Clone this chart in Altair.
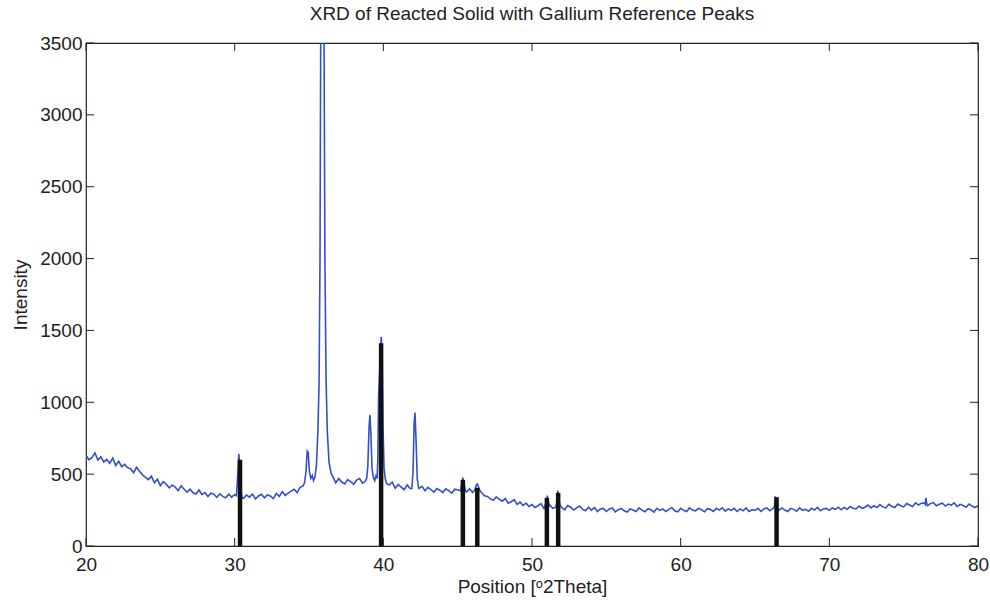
import altair as alt
import pandas as pd

# ---------------- data ----------------
base_start = 20.0
base_step = 0.2
base_int = [
    632, 600, 615, 648, 598,   # 20
    620, 585, 602, 575, 612,   # 21
    560, 590, 552, 568, 545,   # 22
    538, 510, 548, 520, 495,   # 23
    478, 462, 485, 440, 465,   # 24
    420, 448, 430, 405, 425,   # 25
    410, 385, 418, 395, 375,   # 26
    395, 370, 362, 390, 358,   # 27
    372, 345, 368, 360, 338,   # 28
    362, 345, 335, 360, 340,   # 29
    358, 350, 345, 332, 355,   # 30
    340, 362, 328, 348, 360,   # 31
    335, 355, 348, 330, 365,   # 32
    345, 378, 352, 368, 382,   # 33
    395, 372, 408, 418, 440,   # 34
    520, 470, 480, 800, 3600,  # 35
    3600, 1000, 540, 485, 440, # 36
    470, 445, 432, 462, 448,   # 37
    430, 458, 470, 438, 452,   # 38
    460, 460, 460, 480, 470,   # 39
    470, 440, 425, 445, 402,   # 40
    428, 410, 392, 425, 400,   # 41
    405, 405, 400, 415, 385,   # 42
    408, 392, 375, 400, 388,   # 43
    372, 398, 385, 368, 395,   # 44
    392, 385, 385, 375, 398,   # 45
    372, 375, 375, 372, 350,   # 46
    345, 328, 318, 342, 325,   # 47
    312, 330, 298, 308, 322,   # 48
    290, 305, 282, 298, 275,   # 49
    288, 268, 280, 295, 262,   # 50
    275, 284, 262, 270, 275,   # 51
    268, 252, 282, 270, 250,   # 52
    265, 278, 255, 245, 270,   # 53
    250, 268, 240, 258, 262,   # 54
    240, 258, 265, 238, 252,   # 55
    262, 245, 236, 258, 250,   # 56
    240, 265, 250, 238, 260,   # 57
    252, 236, 262, 248, 258,   # 58
    240, 255, 268, 245, 238,   # 59
    262, 248, 240, 265, 250,   # 60
    245, 262, 252, 238, 260,   # 61
    255, 240, 262, 250, 266,   # 62
    242, 258, 248, 262, 240,   # 63
    258, 245, 265, 240, 252,   # 64
    248, 262, 240, 258, 265,   # 65
    245, 262, 250, 248, 265,   # 66
    250, 240, 262, 255, 242,   # 67
    265, 248, 255, 242, 262,   # 68
    250, 268, 245, 258, 262,   # 69
    248, 265, 255, 270, 252,   # 70
    268, 255, 275, 262, 258,   # 71
    278, 262, 270, 285, 265,   # 72
    280, 268, 288, 272, 265,   # 73
    290, 275, 268, 292, 280,   # 74
    272, 295, 285, 275, 300,   # 75
    285, 298, 300, 280, 295,   # 76
    302, 280, 290, 298, 278,   # 77
    292, 285, 300, 275, 290,   # 78
    282, 270, 292, 278, 268,   # 79
    280,                       # 80
]

peak_pos = [
    [30.12, 30.22, 30.28, 30.34, 30.42, 30.5],
    [34.7, 34.8, 34.88, 34.95, 35.02, 35.12, 35.22, 35.3],
    [35.4, 35.5, 35.6, 35.68, 35.74, 35.79, 35.85, 35.9, 35.95, 36.01, 36.07, 36.15, 36.23, 36.35, 36.5],
    [38.88, 38.96, 39.04, 39.1, 39.16, 39.24, 39.32, 39.42, 39.5],
    [39.58, 39.63, 39.68, 39.76, 39.86, 39.92, 39.98, 40.05, 40.14, 40.25],
    [41.92, 42.0, 42.07, 42.13, 42.2, 42.28, 42.38],
    [45.18, 45.28, 45.35, 45.42, 45.52],
    [46.15, 46.25, 46.32, 46.42, 46.52],
    [50.96, 51.03, 51.1, 51.18],
    [51.66, 51.73, 51.8, 51.88],
    [66.3, 66.37, 66.44, 66.52],
    [76.45, 76.5, 76.55],
]
peak_int = [
    [350, 520, 640, 560, 380, 335],
    [440, 520, 660, 650, 520, 470, 490, 455],
    [480, 560, 800, 1150, 2000, 3600, 6500, 8000, 6500, 3600, 2000, 1150, 800, 580, 500],
    [470, 560, 830, 912, 790, 540, 480, 455, 488],
    [470, 600, 1040, 1230, 1455, 1320, 820, 540, 460, 430],
    [400, 520, 850, 928, 740, 470, 400],
    [385, 430, 475, 440, 385],
    [390, 425, 432, 405, 380],
    [300, 350, 310, 275],
    [300, 385, 330, 285],
    [270, 345, 300, 255],
    [290, 335, 295],
]

ref_pos = [30.36, 39.85, 45.35, 46.32, 51.0, 51.76, 66.45]
ref_int = [600, 1410, 460, 405, 335, 370, 340]

x_ticks = [20, 30, 40, 50, 60, 70, 80]
y_ticks = [0, 500, 1000, 1500, 2000, 2500, 3000, 3500]

# ---------------- assemble the scan ----------------
base_pos = [round(base_start + base_step * i, 2) for i in range(len(base_int))]
windows = [(min(p), max(p)) for p in peak_pos]
rows = []
for x, v in zip(base_pos, base_int):
    if not any(lo - 1e-9 <= x <= hi + 1e-9 for lo, hi in windows):
        rows.append((x, v))
for ps, vs in zip(peak_pos, peak_int):
    rows.extend(zip(ps, vs))
rows.sort()
scan = pd.DataFrame(rows, columns=["pos", "intensity"])
refs = pd.DataFrame({"pos": ref_pos, "intensity": ref_int})
xt = pd.DataFrame({"pos": x_ticks})
yt = pd.DataFrame({"intensity": y_ticks})

W, H = 892, 503
FONT = "Liberation Sans"
TL = 8

xscale = alt.Scale(domain=[20, 80], nice=False, zero=False)
yscale = alt.Scale(domain=[0, 3500], nice=False)
xaxis = alt.Axis(title="Position [ᵒ2Theta]", values=x_ticks, format="d", ticks=False, tickSize=0,
                 domain=False, grid=False, labelPadding=9, titlePadding=3,
                 labelFlush=False, labelOverlap=False, labelBound=False)
yaxis = alt.Axis(title="Intensity", values=y_ticks, format="d", ticks=False, tickSize=0,
                 domain=False, grid=False, labelPadding=4, titlePadding=9,
                 labelFlush=False, labelOverlap=False, labelBound=False)
X = alt.X("pos:Q", scale=xscale, axis=xaxis)
Y = alt.Y("intensity:Q", scale=yscale, axis=yaxis)

line = alt.Chart(scan).mark_line(color="#3450c6", strokeWidth=1.6, clip=True).encode(x=X, y=Y)

bars = alt.Chart(refs).mark_rule(color="#111111", strokeWidth=4.5).encode(
    x=X, y=Y, y2=alt.datum(0),
)

tick_style = dict(color="#222222", strokeWidth=1)
xt_bottom = alt.Chart(xt).mark_rule(**tick_style).encode(
    x=X, y=alt.value(H), y2=alt.value(H - TL))
xt_top = alt.Chart(xt).mark_rule(**tick_style).encode(
    x=X, y=alt.value(0), y2=alt.value(TL))
yt_left = alt.Chart(yt).mark_rule(**tick_style).encode(
    y=Y, x=alt.value(0), x2=alt.value(TL))
yt_right = alt.Chart(yt).mark_rule(**tick_style).encode(
    y=Y, x=alt.value(W), x2=alt.value(W - TL))

chart = alt.layer(line, bars, xt_bottom, xt_top, yt_left, yt_right).properties(
    width=W, height=H,
    title=alt.TitleParams("XRD of Reacted Solid with Gallium Reference Peaks",
                          fontSize=19, font=FONT, fontWeight="normal", color="#222222",
                          anchor="middle", offset=10),
    autosize=alt.AutoSizeParams(type="none"),
    padding={"left": 86, "top": 43, "right": 12, "bottom": 56},
).configure_view(
    stroke="#222222", strokeWidth=1.2
).configure_axis(
    labelFont=FONT, titleFont=FONT, labelFontSize=19, titleFontSize=19,
    labelColor="#222222", titleColor="#222222", titleFontWeight="normal",
)

chart.save("out.html", embed_options={"renderer": "svg", "actions": False})
